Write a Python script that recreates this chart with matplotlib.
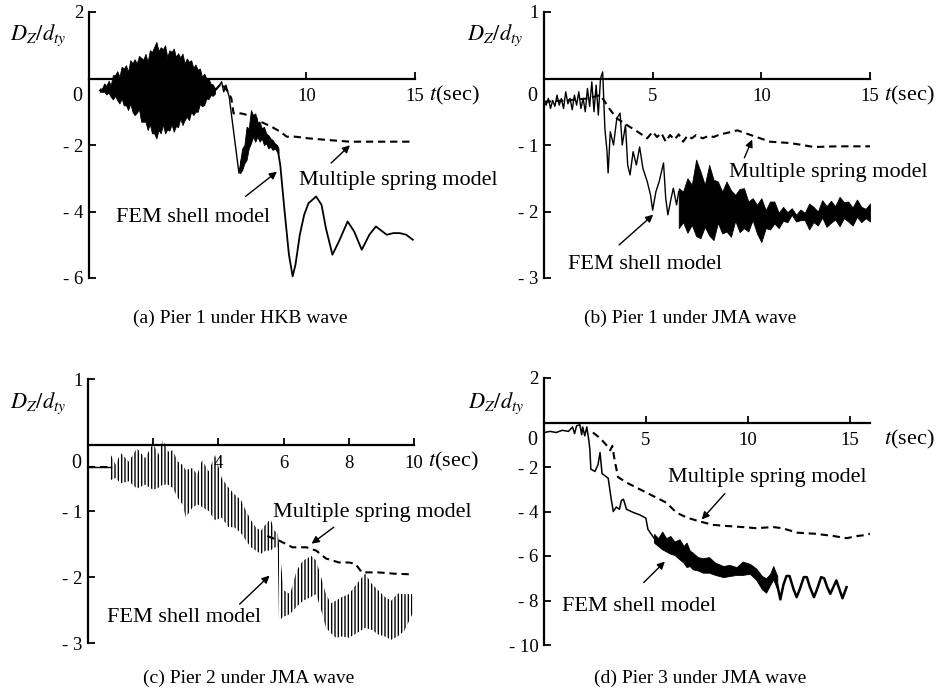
import matplotlib
matplotlib.use("Agg")
import matplotlib.pyplot as plt

plt.rcParams['font.family'] = ['Liberation Serif', 'DejaVu Serif']
plt.rcParams['mathtext.fontset'] = 'stix'
plt.rcParams['hatch.linewidth'] = 1.0

W, H = 937, 692

# ---------------- (a) Pier 1 under HKB wave ----------------
fem_a_t = [0.45, 0.5, None, 5.75, 5.9, 6.1, 6.2, 6.3, 6.45, 6.9, 7.0]
fem_a_y = [-0.35, -0.35, None, -0.4, -0.3, -0.1, -0.4, -0.2, -0.55, -2.85, -2.5]
band_a_t = [0.5, 0.6, 0.7, 0.8, 0.9, 1.0, 1.1, 1.2, 1.3, 1.4, 1.5, 1.6, 1.7, 1.8, 1.9, 2.0, 2.1,
            2.2, 2.3, 2.4, 2.5, 2.6, 2.7, 2.8, 2.9, 3.0, 3.1, 3.2, 3.3, 3.4, 3.5, 3.6, 3.7, 3.8,
            3.9, 4.0, 4.1, 4.2, 4.3, 4.4, 4.5, 4.6, 4.7, 4.8, 4.9, 5.0, 5.1, 5.2, 5.3, 5.4, 5.5,
            5.6, 5.7, 5.8]
band_a_hi = [-0.3, -0.3, -0.15, -0.22, -0.07, -0.2, 0.1, 0.1, 0.22, 0.05, 0.35, 0.3, 0.4, 0.2,
             0.55, 0.46, 0.58, 0.45, 0.68, 0.62, 0.57, 0.74, 0.5, 0.85, 0.8, 0.95, 1.1, 0.83, 0.94,
             0.88, 1.0, 0.65, 0.85, 0.8, 0.9, 0.65, 0.76, 0.63, 0.75, 0.45, 0.6, 0.5, 0.55, 0.32,
             0.42, 0.26, 0.3, 0.05, 0.15, 0.0, 0.0, -0.16, -0.18, -0.3]
band_a_lo = [-0.4, -0.4, -0.4, -0.48, -0.42, -0.55, -0.63, -0.52, -0.65, -0.75, -0.6, -0.81, -0.8,
             -0.95, -0.75, -1.0, -1.1, -1.03, -0.92, -1.3, -1.3, -1.3, -1.55, -1.37, -1.65, -1.65,
             -1.8, -1.55, -1.65, -1.38, -1.65, -1.53, -1.57, -1.38, -1.6, -1.43, -1.46, -1.2,
             -1.4, -1.25, -1.15, -1.25, -1.0, -1.1, -1.0, -1.0, -0.77, -0.83, -0.8, -0.6, -0.62,
             -0.5, -0.52, -0.45]
band_a2_t = [6.95, 7.05, 7.15, 7.25, 7.35, 7.45, 7.55, 7.65, 7.75, 7.85, 7.95, 8.05, 8.15, 8.25,
             8.35, 8.45, 8.55, 8.65, 8.72]
band_a2_hi = [-2.5, -2.1, -2.0, -1.45, -1.5, -0.95, -1.1, -1.05, -1.3, -1.3, -1.5, -1.45, -1.65,
              -1.7, -1.8, -1.85, -1.95, -2.0, -2.1]
band_a2_lo = [-2.85, -2.75, -2.55, -2.45, -2.1, -1.95, -1.75, -1.9, -1.75, -1.9, -1.8, -2.0,
              -1.95, -2.1, -2.05, -2.15, -2.1, -2.2, -2.25]
fem_a2_t = [8.7, 8.8, 9.0, 9.2, 9.37, 9.5, 9.7, 9.9, 10.1, 10.45, 10.7, 10.9, 11.2, 11.5, 11.9,
            12.2, 12.55, 12.9, 13.2, 13.5, 13.7, 14.0, 14.3, 14.6, 14.9]
fem_a2_y = [-2.2, -2.6, -4.0, -5.3, -5.95, -5.6, -4.7, -4.1, -3.75, -3.55, -3.8, -4.5, -5.3, -4.9,
            -4.3, -4.6, -5.15, -4.7, -4.45, -4.6, -4.7, -4.65, -4.65, -4.7, -4.85]
msm_a_t = [5.8, 6.1, 6.4, 6.55, 6.65, 7.0, 7.3, 7.6, 7.9, 8.4, 8.8, 9.1, 9.5, 10.1, 11.0, 12.0,
           13.0, 14.0, 14.9]
msm_a_y = [-0.35, -0.15, -0.4, -0.6, -1.05, -1.05, -1.1, -1.15, -1.3, -1.45, -1.6, -1.75, -1.75,
           -1.8, -1.85, -1.9, -1.9, -1.9, -1.9]

# ---------------- (b) Pier 1 under JMA wave ----------------
fem_b_t = [0.0, 0.1, 0.2, 0.3, 0.4, 0.5, 0.6, 0.7, 0.8, 0.9, 1.0, 1.1, 1.2, 1.3, 1.4, 1.5, 1.6,
           1.7, 1.8, 1.9, 2.0, 2.1, 2.2, 2.3, 2.4, 2.5, 2.6, 2.7, 2.8, 2.9, 2.95, 3.05, 3.2, 3.35,
           3.5, 3.6, 3.75, 3.85, 3.96, 4.1, 4.25, 4.4, 4.55, 4.75, 4.9, 5.0, 5.15, 5.3, 5.5, 5.6,
           5.7, 5.85, 5.95, 6.1, 6.2]
fem_b_y = [-0.35, -0.4, -0.3, -0.45, -0.33, -0.42, -0.25, -0.4, -0.3, -0.45, -0.2, -0.38, -0.3,
           -0.47, -0.25, -0.4, -0.2, -0.45, -0.3, -0.5, -0.15, -0.42, -0.05, -0.5, -0.1, -0.55,
           0.0, 0.1, -0.75, -1.1, -1.42, -0.8, -1.0, -0.6, -0.52, -1.0, -0.7, -1.3, -1.45, -1.1,
           -1.3, -1.03, -1.35, -1.55, -1.75, -1.98, -1.7, -1.55, -1.27, -1.8, -2.05, -1.8, -1.65,
           -1.9, -1.7]
band_b_t = [6.2, 6.4, 6.6, 6.8, 7.0, 7.2, 7.4, 7.6, 7.8, 8.0, 8.2, 8.4, 8.6, 8.8, 9.0, 9.2, 9.4,
            9.6, 9.8, 10.0, 10.2, 10.4, 10.6, 10.8, 11.0, 11.2, 11.4, 11.6, 11.8, 12.0, 12.2,
            12.4, 12.6, 12.8, 13.0, 13.2, 13.4, 13.6, 13.8, 14.0, 14.2, 14.4, 14.6, 14.8, 15.0]
band_b_hi = [-1.65, -1.7, -1.5, -1.6, -1.22, -1.4, -1.6, -1.3, -1.52, -1.55, -1.7, -1.55, -1.68,
             -1.75, -1.66, -1.65, -1.85, -1.8, -1.9, -1.8, -1.98, -1.85, -1.85, -2.02, -1.93,
             -2.01, -1.95, -2.05, -1.97, -2.02, -1.88, -1.93, -2.0, -1.83, -1.92, -1.84, -1.92,
             -1.78, -1.86, -1.85, -1.94, -1.82, -1.93, -1.96, -1.88]
band_b_lo = [-2.25, -2.16, -2.32, -2.2, -2.37, -2.4, -2.23, -2.36, -2.43, -2.17, -2.33, -2.3,
             -2.38, -2.14, -2.31, -2.25, -2.3, -2.13, -2.33, -2.46, -2.25, -2.27, -2.18, -2.25,
             -2.14, -2.16, -2.05, -2.15, -2.13, -2.13, -2.27, -2.16, -2.21, -2.09, -2.23, -2.17,
             -2.12, -2.22, -2.1, -2.15, -2.21, -2.08, -2.16, -2.1, -2.15]
msm_b_t = [0.0, 1.0, 2.0, 2.6, 3.0, 3.35, 3.96, 4.4, 4.75, 5.0, 5.2, 5.4, 5.6, 5.8, 6.0, 6.2, 6.4,
           6.6, 6.8, 7.0, 7.3, 7.6, 7.8, 8.1, 8.4, 8.9, 9.6, 10.4, 11.3, 11.9, 12.4, 13.5, 15.0]
msm_b_y = [-0.35, -0.33, -0.3, -0.25, -0.45, -0.6, -0.73, -0.82, -0.9, -0.8, -0.88, -0.82, -0.95,
           -0.85, -0.92, -0.84, -0.95, -0.86, -0.9, -0.85, -0.9, -0.86, -0.88, -0.84, -0.82,
           -0.78, -0.86, -0.95, -0.97, -1.0, -1.03, -1.02, -1.02]

# ---------------- (c) Pier 2 under JMA wave ----------------
fem_c_t = [0.0, 0.58, 0.7]
fem_c_y = [-0.33, -0.33, -0.33]
band_c_t = [0.7, 0.85, 1.0, 1.25, 1.5, 1.75, 2.0, 2.15, 2.3, 2.45, 2.6, 2.75, 2.9, 3.0, 3.2, 3.35,
            3.5, 3.7, 3.9, 4.1, 4.3, 4.5, 4.7, 4.85, 5.0, 5.15, 5.3, 5.45, 5.6, 5.72, 5.82, 5.86,
            6.0, 6.2, 6.4, 6.6, 6.85, 7.0, 7.15, 7.3, 7.45, 7.6, 7.8, 8.0, 8.25, 8.5, 8.7, 8.9,
            9.1, 9.3, 9.5, 9.7, 9.95]
band_c_hi = [-0.15, -0.3, -0.12, -0.25, -0.05, -0.2, 0.03, -0.15, 0.08, -0.1, -0.08, -0.25, -0.3,
             -0.38, -0.35, -0.45, -0.23, -0.4, -0.15, -0.5, -0.64, -0.75, -0.84, -1.0, -1.14,
             -1.25, -1.3, -1.2, -1.12, -1.3, -1.34, -1.5, -2.2, -2.26, -1.9, -1.75, -1.68, -1.75,
             -2.0, -2.26, -2.4, -2.36, -2.3, -2.26, -2.1, -1.95, -2.1, -2.2, -2.3, -2.36, -2.25,
             -2.26, -2.26]
band_c_lo = [-0.53, -0.5, -0.58, -0.55, -0.66, -0.6, -0.68, -0.65, -0.6, -0.6, -0.65, -0.8, -0.9,
             -1.1, -0.95, -0.9, -0.94, -1.0, -1.14, -1.1, -1.24, -1.25, -1.34, -1.45, -1.55,
             -1.6, -1.65, -1.6, -1.6, -1.55, -1.55, -2.66, -2.6, -2.56, -2.45, -2.36, -2.3,
             -2.26, -2.5, -2.77, -2.85, -2.92, -2.9, -2.92, -2.85, -2.77, -2.8, -2.87, -2.9,
             -2.95, -2.9, -2.82, -2.56]
msm_c_t = [5.5, 5.87, 6.27, 6.7, 7.0, 7.3, 7.7, 8.0, 8.2, 8.4, 8.9, 9.4, 9.95]
msm_c_y = [-1.38, -1.45, -1.55, -1.55, -1.6, -1.72, -1.78, -1.78, -1.8, -1.93, -1.93, -1.95, -1.96]

# ---------------- (d) Pier 3 under JMA wave ----------------
fem_d_t = [0.0, 0.3, 0.6, 0.9, 1.2, 1.4, 1.5, 1.6, 1.76, 1.85, 1.9, 2.0, 2.1, 2.2, 2.25, 2.3, 2.5,
           2.65, 2.75, 2.85, 3.15, 3.3, 3.4, 3.55, 3.7, 3.8, 3.9, 4.05, 4.4, 4.7, 5.0, 5.1, 5.4]
fem_d_y = [-0.45, -0.4, -0.45, -0.35, -0.4, -0.2, -0.5, -0.15, -0.1, -0.55, -0.2, -0.6, -0.2,
           -0.8, -1.2, -2.1, -2.2, -1.9, -1.35, -2.3, -2.5, -3.45, -4.0, -3.8, -3.9, -3.5, -3.45,
           -3.9, -4.05, -4.15, -4.3, -4.8, -5.2]
band_d_t = [5.4, 5.6, 5.8, 6.0, 6.2, 6.4, 6.65, 6.85, 7.0, 7.15, 7.3, 7.55, 7.8, 8.1, 8.4, 8.8,
            9.1, 9.45, 9.75, 10.1, 10.4, 10.7, 10.9, 11.1, 11.25, 11.45]
band_d_hi = [-5.0, -5.2, -4.9, -5.2, -5.1, -5.35, -5.25, -5.55, -5.4, -5.75, -5.85, -6.05, -6.1,
             -6.05, -6.3, -6.45, -6.4, -6.5, -6.25, -6.35, -6.55, -6.9, -7.0, -6.8, -6.45, -6.9]
band_d_lo = [-5.4, -5.55, -5.7, -5.8, -5.9, -5.95, -6.15, -6.3, -6.5, -6.45, -6.6, -6.65, -6.75,
             -6.75, -6.85, -6.95, -6.9, -6.85, -6.85, -6.8, -7.05, -7.5, -7.65, -7.3, -7.05, -7.5]
fem_d2_t = [11.45, 11.6, 11.75, 11.9, 12.05, 12.25, 12.4, 12.55, 12.75, 12.9, 13.05, 13.25, 13.4,
            13.6, 13.75, 13.9, 14.05, 14.2, 14.35, 14.5, 14.65, 14.85]
fem_d2_y = [-7.3, -7.95, -7.3, -6.9, -6.9, -7.5, -7.85, -7.5, -6.95, -6.95, -7.4, -7.85, -7.5,
            -6.95, -7.0, -7.4, -7.7, -7.4, -7.1, -7.5, -7.9, -7.4]
msm_d_t = [2.4, 2.75, 3.1, 3.25, 3.35, 3.45, 3.63, 4.05, 4.7, 5.35, 6.0, 6.5, 7.0, 7.65, 8.3,
           8.95, 9.75, 10.4, 11.25, 11.7, 12.4, 13.3, 14.2, 14.85, 15.4, 15.85, 16.0]
msm_d_y = [-0.45, -0.7, -1.05, -1.25, -1.05, -1.6, -2.45, -2.7, -3.0, -3.3, -3.6, -4.05, -4.27,
           -4.45, -4.6, -4.65, -4.7, -4.75, -4.7, -4.75, -4.95, -5.0, -5.1, -5.2, -5.1, -5.05, -5.0]

fig = plt.figure(figsize=(W / 100, H / 100), dpi=100)

TICK_FS = 13.5
TEXT_FS = 16
dash = (0, (3.5, 2.3))
arrow = dict(arrowstyle='-|>', color='black', lw=1.0, mutation_scale=11)


def make_axes(box, xlim, ylim, xticks, xlabels, yticks, ylabels):
    left, right, top, bottom = box
    ax = fig.add_axes([left / W, 1 - bottom / H, (right - left) / W, (bottom - top) / H])
    ax.set_xlim(*xlim)
    ax.set_ylim(*ylim)
    ax.patch.set_alpha(0)
    ax.spines['top'].set_visible(False)
    ax.spines['right'].set_visible(False)
    ax.spines['bottom'].set_position(('data', 0))
    ax.spines['bottom'].set_linewidth(1.6)
    ax.spines['left'].set_linewidth(1.6)
    ax.set_xticks(xticks)
    ax.set_xticklabels(xlabels)
    ax.set_yticks(yticks)
    ax.set_yticklabels(ylabels)
    ax.tick_params(axis='x', direction='in', length=5, width=1.3, pad=7, labelsize=TICK_FS)
    ax.tick_params(axis='y', direction='in', length=5, width=1.3, pad=4, labelsize=TICK_FS)
    # the zero label sits below the time axis
    ax.annotate('0', xy=(0, 0), xycoords=('axes fraction', 'data'), xytext=(-5, -13),
                textcoords='offset points', ha='right', va='center', fontsize=TICK_FS + 1)
    ax.annotate('$t$(sec)', xy=(1, 0), xycoords=('axes fraction', 'data'), xytext=(10, -12),
                textcoords='offset points', ha='left', va='center', fontsize=TEXT_FS)
    return ax


def split(ts, ys):
    # None separates pieces of a line
    out, ct, cy = [], [], []
    for t, y in zip(ts, ys):
        if t is None:
            out.append((ct, cy))
            ct, cy = [], []
        else:
            ct.append(t)
            cy.append(y)
    out.append((ct, cy))
    return out


# (a)
ax = make_axes((89, 415, 12, 278), (0, 15), (-6, 2), [5, 10, 15], ['', '10', '15'],
               [2, -2, -4, -6], ['2', '- 2', '- 4', '- 6'])
for ct, cy in split(fem_a_t, fem_a_y):
    ax.plot(ct, cy, color='black', lw=1.0)
ax.fill_between(band_a_t, band_a_lo, band_a_hi, color='black', lw=0.6)
ax.fill_between(band_a2_t, band_a2_lo, band_a2_hi, color='black', lw=0.6)
ax.plot(fem_a2_t, fem_a2_y, color='black', lw=1.3)
ax.plot(msm_a_t, msm_a_y, color='black', lw=1.5, ls=dash)
ax.annotate('', xy=(8.75, -2.75), xytext=(7.1, -3.6), arrowprops=arrow)
ax.annotate('', xy=(12.1, -1.95), xytext=(11.05, -2.6), arrowprops=arrow)
ax.text(4.77, -4.19, 'FEM shell model', ha='center', va='center', fontsize=TEXT_FS)
ax.text(9.68, -3.08, 'Multiple spring model', ha='left', va='center', fontsize=TEXT_FS)

# (b)
ax = make_axes((544, 870, 12, 278), (0, 15), (-3, 1), [5, 10, 15], ['5', '10', '15'],
               [1, -1, -2, -3], ['1', '- 1', '- 2', '- 3'])
ax.plot(fem_b_t, fem_b_y, color='black', lw=1.0)
ax.fill_between(band_b_t, band_b_lo, band_b_hi, color='black', lw=0.6)
ax.plot(msm_b_t, msm_b_y, color='black', lw=1.5, ls=dash)
ax.annotate('', xy=(9.63, -0.88), xytext=(9.17, -1.23), arrowprops=arrow)
ax.annotate('', xy=(5.12, -2.02), xytext=(3.36, -2.53), arrowprops=arrow)
ax.text(13.09, -1.41, 'Multiple spring model', ha='center', va='center', fontsize=TEXT_FS)
ax.text(4.65, -2.8, 'FEM shell model', ha='center', va='center', fontsize=TEXT_FS)

# (c)
ax = make_axes((88, 414, 379, 643), (0, 10), (-3, 1), [2, 4, 6, 8, 10],
               ['', '4', '6', '8', '10'], [1, -1, -2, -3], ['1', '- 1', '- 2', '- 3'])
ax.plot(fem_c_t, fem_c_y, color='black', lw=1.0)
ax.plot(fem_c_t, fem_c_y, color='black', lw=1.5, ls=dash)
ax.fill_between(band_c_t, band_c_lo, band_c_hi, facecolor='none', edgecolor='black',
                hatch='|||||', lw=0)
ax.plot(msm_c_t, msm_c_y, color='black', lw=1.5, ls=dash)
ax.annotate('', xy=(6.79, -1.52), xytext=(7.61, -1.22), arrowprops=arrow)
ax.annotate('', xy=(5.63, -1.95), xytext=(4.59, -2.44), arrowprops=arrow)
ax.text(5.66, -1.03, 'Multiple spring model', ha='left', va='center', fontsize=TEXT_FS)
ax.text(0.58, -2.62, 'FEM shell model', ha='left', va='center', fontsize=TEXT_FS)

# (d)
ax = make_axes((544, 870, 378, 645), (0, 16), (-10, 2), [5, 10, 15], ['5', '10', '15'],
               [2, -2, -4, -6, -8, -10], ['2', '- 2', '- 4', '- 6', '- 8', '- 10'])
ax.plot(fem_d_t, fem_d_y, color='black', lw=1.1)
ax.fill_between(band_d_t, band_d_lo, band_d_hi, color='black', lw=0.6)
ax.plot(fem_d2_t, fem_d2_y, color='black', lw=1.8)
ax.plot(msm_d_t, msm_d_y, color='black', lw=1.5, ls=dash)
ax.annotate('', xy=(7.65, -4.45), xytext=(8.97, -3.1), arrowprops=arrow)
ax.annotate('', xy=(6.03, -6.16), xytext=(4.8, -7.28), arrowprops=arrow)
ax.text(6.08, -2.47, 'Multiple spring model', ha='left', va='center', fontsize=TEXT_FS)
ax.text(0.88, -8.27, 'FEM shell model', ha='left', va='center', fontsize=TEXT_FS)

# axis names and captions
for x, y in [(10, 35), (467, 35), (10, 403), (468, 403)]:
    fig.text(x / W, 1 - y / H, r'$D_Z/d_{ty}$', ha='left', va='center', fontsize=16)
captions = ['(a) Pier 1 under HKB wave', '(b) Pier 1 under JMA wave',
            '(c) Pier 2 under JMA wave', '(d) Pier 3 under JMA wave']
for cap, (x, y) in zip(captions, [(240, 318), (690, 318), (249, 678), (700, 678)]):
    fig.text(x / W, 1 - y / H, cap, ha='center', va='center', fontsize=14)

fig.savefig('out.png', dpi=100)
